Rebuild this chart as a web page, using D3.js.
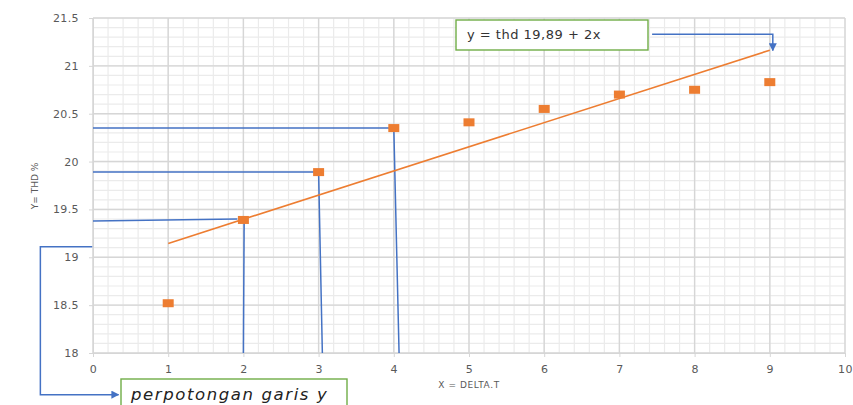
<!DOCTYPE html>
<html>
<head>
<meta charset="utf-8">
<script src="https://cdn.jsdelivr.net/npm/d3@7"></script>
<style>
  body { margin: 0; background: #fff; }
  text { font-family: "DejaVu Sans", sans-serif; }
</style>
</head>
<body>
<div id="chart"></div>
<script>
// data
const xValues = [1, 2, 3, 4, 5, 6, 7, 8, 9];
const thdValues = [18.52, 19.39, 19.89, 20.35, 20.41, 20.55, 20.70, 20.75, 20.83];
const xTicks = [0, 1, 2, 3, 4, 5, 6, 7, 8, 9, 10];
const yTicks = [18, 18.5, 19, 19.5, 20, 20.5, 21, 21.5];
const equationLabel = "y = thd 19,89 + 2x";
const calloutLabel = "perpotongan garis y";

const width = 853, height = 405;
const plot = { left: 93, right: 845, top: 18, bottom: 353 };

const svg = d3.select("#chart").append("svg")
    .attr("width", width).attr("height", height);

const defs = svg.append("defs");
defs.append("marker")
    .attr("id", "arrow")
    .attr("viewBox", "0 0 10 10")
    .attr("refX", 9).attr("refY", 5)
    .attr("markerWidth", 8).attr("markerHeight", 8)
    .attr("markerUnits", "userSpaceOnUse")
    .attr("orient", "auto")
    .append("path").attr("d", "M0,0L10,5L0,10Z").attr("fill", "#4472C4");

const x = d3.scaleLinear().domain([0, 10]).range([plot.left, plot.right]);
const y = d3.scaleLinear().domain([18, 21.5]).range([plot.bottom, plot.top]);

// minor grid
const minorX = d3.range(0, 10.001, 0.2);
const minorY = d3.range(18, 21.501, 0.1);
svg.append("g").selectAll("line").data(minorX).join("line")
    .attr("x1", d => x(d)).attr("x2", d => x(d))
    .attr("y1", plot.top).attr("y2", plot.bottom)
    .attr("stroke", "#ebebeb").attr("stroke-width", 1.2);
svg.append("g").selectAll("line").data(minorY).join("line")
    .attr("x1", plot.left).attr("x2", plot.right)
    .attr("y1", d => y(d)).attr("y2", d => y(d))
    .attr("stroke", "#ebebeb").attr("stroke-width", 1.2);

// major grid
svg.append("g").selectAll("line").data(xTicks).join("line")
    .attr("x1", d => x(d)).attr("x2", d => x(d))
    .attr("y1", plot.top).attr("y2", plot.bottom)
    .attr("stroke", "#d6d6d6").attr("stroke-width", 1.4);
svg.append("g").selectAll("line").data(yTicks).join("line")
    .attr("x1", plot.left).attr("x2", plot.right)
    .attr("y1", d => y(d)).attr("y2", d => y(d))
    .attr("stroke", "#d6d6d6").attr("stroke-width", 1.4);

// axes
const yAxis = svg.append("g")
    .attr("transform", `translate(${plot.left},0)`)
    .call(d3.axisLeft(y).tickValues(yTicks).tickSize(4).tickPadding(10)
        .tickFormat(d => String(d)));
const xAxis = svg.append("g")
    .attr("transform", `translate(0,${plot.bottom})`)
    .call(d3.axisBottom(x).tickValues(xTicks).tickSize(4).tickPadding(8));
[xAxis, yAxis].forEach(g => {
    g.select(".domain").attr("stroke", "#d6d6d6");
    g.selectAll(".tick line").attr("stroke", "#d6d6d6");
    g.selectAll(".tick text")
        .attr("fill", "#595959")
        .style("font-size", "11px")
        .style("font-family", "'DejaVu Sans', sans-serif")
        .style("letter-spacing", "0.4px");
});

// axis titles
svg.append("text")
    .attr("x", 469).attr("y", 388)
    .attr("text-anchor", "middle")
    .attr("fill", "#595959")
    .style("font-size", "9px")
    .style("letter-spacing", "0.6px")
    .text("X = DELTA.T");
svg.append("text")
    .attr("transform", "translate(38,186) rotate(-90)")
    .attr("text-anchor", "middle")
    .attr("fill", "#595959")
    .style("font-size", "9px")
    .text("Y= THD %");

// blue guide lines (annotations)
const blue = "#4472C4";
const guides = [
    [[0, 20.35], [4, 20.35], [4.07, 18]],
    [[0, 19.89], [3, 19.89], [3.05, 18]],
    [[0, 19.38], [1.92, 19.40]],
    [[2.01, 19.38], [2.0, 18]]
];
const lineGen = d3.line().x(d => x(d[0])).y(d => y(d[1]));
svg.append("g").selectAll("path").data(guides).join("path")
    .attr("d", lineGen)
    .attr("fill", "none")
    .attr("stroke", blue)
    .attr("stroke-width", 1.5);

// callout arrow to "perpotongan garis y"
svg.append("path")
    .attr("d", lineGen([[-0.01, 19.11], [-0.7, 19.11], [-0.7, 17.565], [0.34, 17.565]]))
    .attr("fill", "none")
    .attr("stroke", blue)
    .attr("stroke-width", 1.5)
    .attr("marker-end", "url(#arrow)");

// trend line (least squares)
const mx = d3.mean(xValues), my = d3.mean(thdValues);
const slope = d3.sum(xValues, (v, i) => (v - mx) * (thdValues[i] - my)) /
    d3.sum(xValues, v => (v - mx) * (v - mx));
const intercept = my - slope * mx;
const xr = d3.extent(xValues);
svg.append("path")
    .datum(xr.map(v => [v, intercept + slope * v]))
    .attr("d", lineGen)
    .attr("fill", "none")
    .attr("stroke", "#ED7D31")
    .attr("stroke-width", 1.6);

// points
svg.append("g").selectAll("rect").data(xValues).join("rect")
    .attr("x", d => x(d) - 5.5)
    .attr("y", (d, i) => y(thdValues[i]) - 4)
    .attr("width", 11).attr("height", 8)
    .attr("fill", "#ED7D31");

// equation box + arrow
svg.append("path")
    .attr("d", lineGen([[7.435, 21.33], [9.04, 21.33], [9.04, 21.16]]))
    .attr("fill", "none")
    .attr("stroke", blue)
    .attr("stroke-width", 1.5)
    .attr("marker-end", "url(#arrow)");
svg.append("rect")
    .attr("x", 456).attr("y", 20).attr("width", 192).attr("height", 30)
    .attr("fill", "#fff").attr("stroke", "#70AD47").attr("stroke-width", 1.4);
svg.append("text")
    .attr("x", 467).attr("y", 39)
    .attr("fill", "#333")
    .style("font-size", "13px")
    .style("letter-spacing", "0.5px")
    .text(equationLabel);

// callout box
svg.append("rect")
    .attr("x", 121).attr("y", 379).attr("width", 226).attr("height", 40)
    .attr("fill", "#fff").attr("stroke", "#70AD47").attr("stroke-width", 1.4);
svg.append("text")
    .attr("x", 131).attr("y", 400)
    .attr("fill", "#222")
    .style("font-size", "16.5px")
    .style("font-style", "italic")
    .style("letter-spacing", "1.6px")
    .text(calloutLabel);
</script>
</body>
</html>
